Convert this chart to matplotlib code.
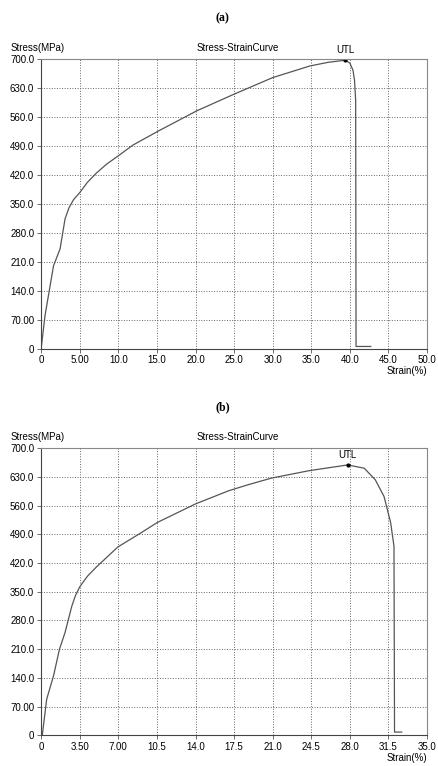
import numpy as np
import matplotlib.pyplot as plt
from matplotlib.ticker import FixedLocator

plt.rcParams['font.family'] = ['Liberation Sans', 'DejaVu Sans']

# (a) curve
strain_a = [0, 0.5, 1.6, 2.45, 3.1, 3.6, 4.2, 5.0, 6.0, 7.2, 8.5, 10.0, 11.9, 15.2, 20.2,
            25.0, 30.0, 34.8, 37.2, 39.4, 40.0, 40.4, 40.6, 40.75, 40.8, 42.7]
stress_a = [0, 80, 200, 241, 314, 340, 360, 377, 402, 425, 446, 466, 492, 526, 575,
            615, 655, 683, 692, 697, 690, 673, 649, 600, 5, 5]
utl_a = (39.4, 697)
xticks_a = [0, 5, 10, 15, 20, 25, 30, 35, 40, 45, 50]
xlabels_a = ['0', '5.00', '10.0', '15.0', '20.0', '25.0', '30.0', '35.0', '40.0', '45.0', '50.0']

# (b) curve
strain_b = [0.1, 0.5, 1.12, 1.66, 2.17, 2.77, 3.1, 3.5, 4.2, 5.0, 6.95, 8.9, 10.55, 14.0,
            17.0, 18.8, 20.9, 24.3, 27.8, 29.3, 30.3, 31.1, 31.7, 32.0, 32.05, 32.7]
stress_b = [0, 88, 145, 210, 251, 314, 340, 362, 388, 410, 459, 491, 519, 564,
            596, 611, 627, 645, 659, 651, 623, 582, 518, 461, 8, 8]
utl_b = (27.8, 659)
xticks_b = [0, 3.5, 7, 10.5, 14, 17.5, 21, 24.5, 28, 31.5, 35]
xlabels_b = ['0', '3.50', '7.00', '10.5', '14.0', '17.5', '21.0', '24.5', '28.0', '31.5', '35.0']

yticks = [0, 70, 140, 210, 280, 350, 420, 490, 560, 630, 700]
ylabels = ['0', '70.00', '140.0', '210.0', '280.0', '350.0', '420.0', '490.0', '560.0', '630.0', '700.0']

fig = plt.figure(figsize=(4.38, 7.66), dpi=100)


def panel(rect, xs, ys, utl, xt, xl, xmax, tag):
    ax = fig.add_axes(rect)
    ax.plot(xs, ys, color='#555555', lw=0.9)
    ax.plot([utl[0]], [utl[1]], 'o', color='black', ms=2)
    ax.text(utl[0], utl[1] + 12, 'UTL', ha='center', va='bottom', fontsize=7)
    ax.set_xlim(0, xmax)
    ax.set_ylim(0, 700)
    ax.xaxis.set_major_locator(FixedLocator(xt))
    ax.set_xticklabels(xl)
    ax.yaxis.set_major_locator(FixedLocator(yticks))
    ax.set_yticklabels(ylabels)
    ax.tick_params(labelsize=7, length=3, width=0.6, color='#555555', pad=2)
    ax.grid(True, ls=':', lw=0.7, color='#666666')
    for s in ax.spines.values():
        s.set_color('#888888')
        s.set_linewidth(0.8)
    ax.spines['left'].set_color('#444444')
    ax.spines['bottom'].set_color('#444444')
    ax.text(-0.01, 1.02, 'Stress(MPa)', transform=ax.transAxes, ha='center',
            va='bottom', fontsize=7)
    ax.text(0.51, 1.02, 'Stress-StrainCurve', transform=ax.transAxes, ha='center',
            va='bottom', fontsize=7)
    ax.text(1.0, -0.062, 'Strain(%)', transform=ax.transAxes, ha='right',
            va='top', fontsize=7)
    ax.text(0.47, 1.12, tag, transform=ax.transAxes, ha='center', va='bottom',
            fontsize=8.5, fontweight='bold', family='Liberation Serif')
    return ax


panel([0.094, 0.545, 0.881, 0.378], strain_a, stress_a, utl_a,
      xticks_a, xlabels_a, 50, '(a)')
panel([0.094, 0.040, 0.881, 0.375], strain_b, stress_b, utl_b,
      xticks_b, xlabels_b, 35, '(b)')

fig.savefig('out.png', dpi=100)
